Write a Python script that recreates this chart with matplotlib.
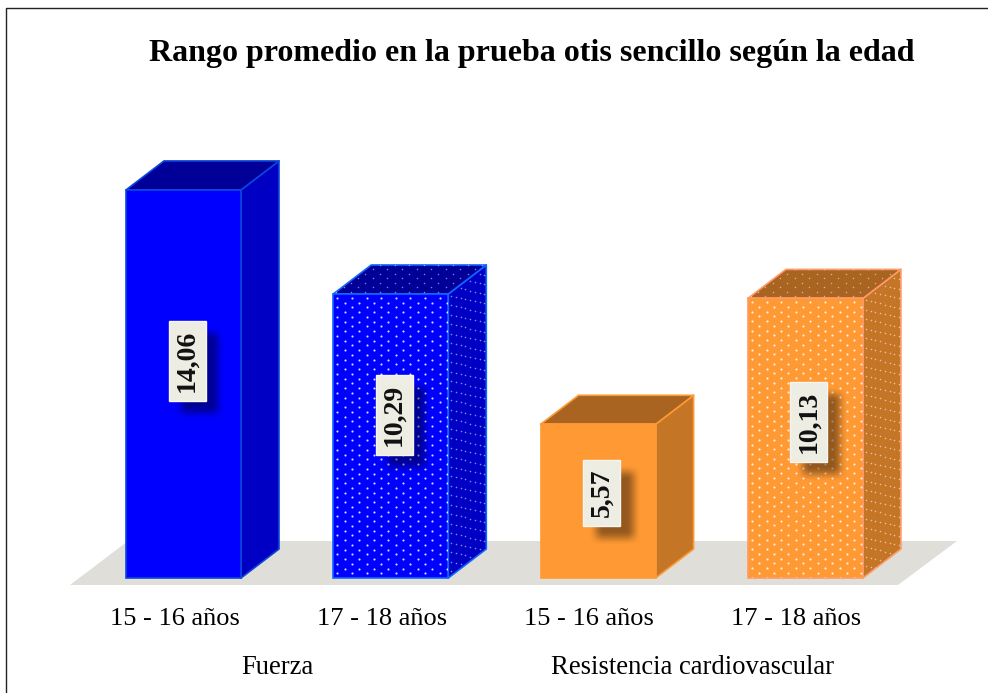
import numpy as np
import matplotlib
matplotlib.use("Agg")
import matplotlib.pyplot as plt
from matplotlib.patches import Polygon, Rectangle
from matplotlib.lines import Line2D

TITLE = "Rango promedio en la prueba otis sencillo según la edad"
categories = ["15 - 16 años", "17 - 18 años", "15 - 16 años", "17 - 18 años"]
groups = ["Fuerza", "Resistencia cardiovascular"]
values = [14.06, 10.29, 5.57, 10.13]
value_labels = ["14,06", "10,29", "5,57", "10,13"]
dotted = [False, True, False, True]

W, H = 988, 693
PX_X = 207.3           # pixels per category
PX_Y = 27.6            # pixels per value unit
X0, Y0 = 183.5, 578    # pixel of category 0, value 0
FLOOR_PX = 585
BAR_W = 115 / PX_X
DX, DY = 38 / PX_X, 29 / PX_Y

FRONT = ["#0000FF", "#0000FF", "#FF9933", "#FF9933"]
SIDE = ["#0000C4", "#0000C4", "#C47526", "#C47526"]
TOP = ["#000099", "#000099", "#A86420", "#A86420"]
EDGE = ["#0A46DC", "#0F66FF", "#FF9933", "#FF9966"]
BOX_CENTER_PX = [361, 415, 493, 422]
BOX_X_SHIFT_PX = 3.5
BOX_H_PX = [80, 80, 66, 80]

plt.rcParams["font.family"] = ["Liberation Serif", "DejaVu Serif"]
fig = plt.figure(figsize=(W / 100, H / 100), dpi=100, facecolor="white")
ax = fig.add_axes([0, (H - FLOOR_PX) / H, 1, FLOOR_PX / H])
ax.set_xlim(-X0 / PX_X, (W - X0) / PX_X)
ax.set_ylim(-(FLOOR_PX - Y0) / PX_Y, Y0 / PX_Y)
ax.patch.set_visible(False)
for s in ax.spines.values():
    s.set_visible(False)
ax.set_yticks([])
ax.set_xticks([i - 9 / PX_X for i in range(len(categories))], categories, fontsize=19)
ax.tick_params(axis="x", length=0, pad=16.5, colors="black")
ax.set_autoscale_on(False)


def xp(px):
    return (px - X0) / PX_X


def yp(py):
    return (Y0 - py) / PX_Y


# floor
ax.add_patch(Polygon([(xp(70), yp(585)), (xp(898), yp(585)), (xp(957), yp(541)), (xp(128), yp(541))],
                     closed=True, fc="#E0DED8", ec="none", zorder=1))


def dots(points, clip, alpha, s):
    pts = np.array(points)
    c = ax.scatter(pts[:, 0], pts[:, 1], s=s, c="white", alpha=alpha, linewidths=0,
                   zorder=4)
    c.set_clip_path(clip)


def smooth(e):
    return e * e * (3 - 2 * e)


def ramp(t, a, b, blur):
    e = np.clip((t - a + blur) / (2 * blur), 0, 1)
    f = np.clip((b - t + blur) / (2 * blur), 0, 1)
    return smooth(e) * smooth(f)


for i, v in enumerate(values):
    l, r = i - BAR_W / 2, i + BAR_W / 2
    front = Polygon([(l, 0), (r, 0), (r, v), (l, v)], closed=True, fc=FRONT[i], ec=EDGE[i], lw=1.2, zorder=3)
    side = Polygon([(r, 0), (r + DX, DY), (r + DX, v + DY), (r, v)], closed=True, fc=SIDE[i], ec=EDGE[i], lw=1.2,
                   joinstyle="round", zorder=3)
    top = Polygon([(l, v), (r, v), (r + DX, v + DY), (l + DX, v + DY)], closed=True, fc=TOP[i], ec=EDGE[i], lw=1.2,
                  joinstyle="round", zorder=3)
    for p in (side, top, front):
        ax.add_patch(p)

    if dotted[i]:
        # dot texture, in pixel steps along each face
        hx, hy = 14.6 / PX_X, 4.75 / PX_Y
        fp, sp, tp = [], [], []
        nr = int(v / hy) + 2
        for row in range(nr):
            y0 = v - (row + 0.8) * hy
            if y0 < 0:
                continue
            off = 0.5 if row % 2 else 0.0
            for c in range(9):
                x0 = l + (c + off + 0.28) * hx
                if x0 < r:
                    fp.append((x0, y0))
            for c in range(5):
                u = (c + off + 0.3) * 9.5 / 38
                if u < 1:
                    sp.append((r + u * DX, y0 + u * DY))
        for row in range(7):
            w = (row + 0.5) / 6.5
            off = (0.5 if row % 2 else 0.0) - row * (38 / 6.5) / 14.6
            for c in range(-3, 12):
                x0 = l + (c + off) * hx
                tp.append((x0 + w * DX, v + w * DY))
        dots(fp, front, 0.85, 2.4)
        dots(sp, side, 0.55, 1.3)
        dots(tp, top, 0.5, 1.2)

    # value label with soft shadow
    cx = i + BOX_X_SHIFT_PX / PX_X
    cy = yp(BOX_CENTER_PX[i])
    bw, bh = 37 / PX_X, BOX_H_PX[i] / PX_Y
    sx, sy = 12.5 / PX_X, -12 / PX_Y
    pad_px = 14
    nx, ny = 37 + 2 * pad_px, BOX_H_PX[i] + 2 * pad_px
    gx = np.arange(nx) + 0.5
    gy = np.arange(ny) + 0.5
    alpha = np.outer(ramp(gy, pad_px, ny - pad_px, 7.5), ramp(gx, pad_px, nx - pad_px, 7.5)) * 0.42
    rgba = np.zeros((ny, nx, 4))
    rgba[..., 3] = alpha
    ext_x, ext_y = (37 / 2 + pad_px) / PX_X, (BOX_H_PX[i] / 2 + pad_px) / PX_Y
    ax.imshow(rgba, extent=(cx + sx - ext_x, cx + sx + ext_x, cy + sy - ext_y, cy + sy + ext_y),
              aspect="auto", interpolation="bilinear", zorder=5)
    ax.add_patch(Rectangle((cx - bw / 2, cy - bh / 2), bw, bh, fc="#EEEDE3", ec="#F6F6F2", lw=1.0, zorder=6))
    ax.text(cx, cy, value_labels[i], rotation=90, ha="center", va="center", rotation_mode="anchor",
            fontsize=20, fontweight="bold", color="#111111", zorder=7)

ax.set_xlim(-X0 / PX_X, (W - X0) / PX_X)
ax.set_ylim(-(FLOOR_PX - Y0) / PX_Y, Y0 / PX_Y)

# group labels
for k, name in enumerate(groups):
    ax.text(2 * k + 0.5 - 0.045, yp(667), name, ha="center", va="center", fontsize=19.2, clip_on=False)

fig.text(532 / W, 1 - 53.5 / H, TITLE, ha="center", va="center", fontsize=23, fontweight="bold")

# chart-area border
fig.add_artist(Line2D([5.5 / W, 5.5 / W, 1], [0, 1 - 8 / H, 1 - 8 / H], color="#222222", lw=1.0))

fig.savefig("out.png", dpi=100, facecolor="white")
